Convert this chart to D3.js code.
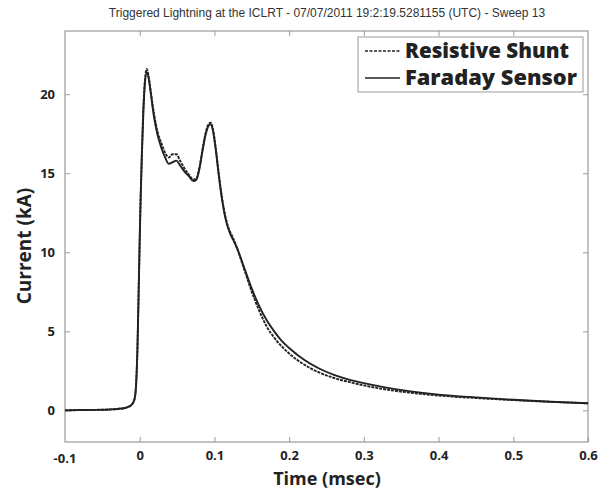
<!DOCTYPE html>
<html><head><meta charset="utf-8">
<script src="https://cdn.jsdelivr.net/npm/d3@7"></script>
<style>body{margin:0;background:#fff}svg{display:block}</style>
</head><body>
<svg id="c" width="616" height="491"></svg>
<script>
const title = "Triggered Lightning at the ICLRT - 07/07/2011 19:2:19.5281155 (UTC) - Sweep 13";
const xLabel = "Time (msec)";
const yLabel = "Current (kA)";
const seriesNames = ["Resistive Shunt", "Faraday Sensor"];
const xTicks = [-0.1, 0, 0.1, 0.2, 0.3, 0.4, 0.5, 0.6];
const yTicks = [0, 5, 10, 15, 20];
const time = [-0.1,-0.08,-0.06,-0.04,-0.03,-0.02,-0.014,-0.01,-0.007,-0.005,-0.003,-0.001,0.001,0.003,0.005,0.007,0.0095,0.012,0.015,0.019,0.024,0.029,0.034,0.039,0.044,0.049,0.054,0.06,0.066,0.072,0.076,0.08,0.084,0.088,0.092,0.095,0.098,0.102,0.106,0.11,0.115,0.12,0.125,0.13,0.14,0.15,0.16,0.17,0.18,0.19,0.2,0.22,0.24,0.26,0.28,0.3,0.33,0.36,0.4,0.45,0.5,0.55,0.6];
const shunt = [0,0.02,0.03,0.06,0.09,0.15,0.25,0.4,0.7,1.5,4,8.5,13,16.5,19.2,20.9,21.6,21.1,20.1,18.8,17.6,16.9,16.3,16.0,16.2,16.2,15.8,15.3,14.9,14.6,14.7,15.4,16.5,17.5,18.1,18.2,17.8,16.5,14.9,13.5,12.2,11.4,10.9,10.3,8.9,7.5,6.3,5.3,4.6,4.05,3.6,2.9,2.4,2.05,1.8,1.58,1.32,1.13,0.94,0.78,0.65,0.54,0.45];
const faraday = [0,0.02,0.03,0.06,0.09,0.15,0.25,0.4,0.7,1.5,4,8.5,13,16.3,19,20.7,21.4,21.0,20.0,18.6,17.4,16.6,16.0,15.6,15.7,15.8,15.5,15.1,14.8,14.5,14.6,15.3,16.4,17.4,18.0,18.1,17.7,16.4,14.8,13.4,12.1,11.3,10.8,10.3,9.0,7.7,6.6,5.7,5.0,4.4,3.95,3.2,2.65,2.25,1.95,1.72,1.44,1.22,1.0,0.82,0.67,0.55,0.45];

const svg = d3.select("#c");
const m = {l:65, r:588, t:31, b:442};
const x = d3.scaleLinear().domain([-0.1, 0.6]).range([m.l, m.r]);
const y = d3.scaleLinear().domain([-2, 24]).range([m.b, m.t]);
const frameCol = "#9a9a9a";
const tickFont = "'Open Sans', 'DejaVu Sans', sans-serif";

svg.append("text").attr("x", 327).attr("y", 17).attr("text-anchor","middle")
  .attr("font-family","'Liberation Sans', Arial, sans-serif").attr("font-size",12).attr("fill","#333")
  .text(title);

svg.append("rect").attr("x", m.l).attr("y", m.t).attr("width", m.r-m.l).attr("height", m.b-m.t)
  .attr("fill","none").attr("stroke",frameCol).attr("stroke-width",1.2);

const tl = 5;
const xb = svg.append("g").attr("transform",`translate(0,${m.b})`)
  .call(d3.axisBottom(x).tickValues(xTicks).tickSize(-tl).tickPadding(9).tickFormat(d=>d3.format("")(d)));
const xt = svg.append("g").attr("transform",`translate(0,${m.t})`)
  .call(d3.axisTop(x).tickValues(xTicks).tickSize(-tl).tickFormat(""));
const yl = svg.append("g").attr("transform",`translate(${m.l},0)`)
  .call(d3.axisLeft(y).tickValues(yTicks).tickSize(-tl).tickPadding(10));
const yr = svg.append("g").attr("transform",`translate(${m.r},0)`)
  .call(d3.axisRight(y).tickValues(yTicks).tickSize(-tl).tickFormat(""));
[xb,xt,yl,yr].forEach(g=>{
  g.select(".domain").remove();
  g.selectAll(".tick line").attr("stroke",frameCol).attr("stroke-width",1);
  g.selectAll("text").attr("font-family",tickFont).attr("font-weight",700).attr("font-size",13).attr("fill","#222");
});
xb.selectAll(".tick").filter(d=>d===-0.1).remove();
xt.selectAll(".tick").filter(d=>d===-0.1||d===0.6).remove();

svg.append("text").attr("x", 327).attr("y", 485).attr("text-anchor","middle")
  .attr("font-family",tickFont).attr("font-weight",700).attr("font-size",18).attr("fill","#222").text(xLabel);
svg.append("text").attr("transform","translate(31,246) rotate(-90)").attr("text-anchor","middle")
  .attr("font-family",tickFont).attr("font-weight",700).attr("font-size",19).attr("fill","#222").text(yLabel);
svg.append("text").attr("x", x(-0.1)).attr("y", m.b+9+3).attr("dy","0.71em").attr("text-anchor","middle")
  .attr("font-family",tickFont).attr("font-weight",700).attr("font-size",13).attr("fill","#222").text("-0.1");

const line = d3.line().x((d,i)=>x(time[i])).y(d=>y(d)).curve(d3.curveMonotoneX);
svg.append("path").datum(faraday).attr("d", line).attr("fill","none").attr("stroke","#222").attr("stroke-width",1.9);
svg.append("path").datum(shunt).attr("d", line).attr("fill","none").attr("stroke","#222").attr("stroke-width",1.9).attr("stroke-dasharray","3,1");

const lg = svg.append("g");
lg.append("rect").attr("x",358).attr("y",37).attr("width",225).attr("height",55).attr("fill","#fff").attr("stroke",frameCol).attr("stroke-width",1);
const dashes = ["3,1.5", null];
const widths = [164, 172];
seriesNames.forEach((n,i)=>{
  const cy = 51 + i*27;
  const l = lg.append("line").attr("x1",365).attr("x2",400).attr("y1",cy).attr("y2",cy).attr("stroke","#222").attr("stroke-width",1.3);
  if (dashes[i]) l.attr("stroke-dasharray",dashes[i]);
  lg.append("text").attr("x",405).attr("y",cy+7).attr("font-family",tickFont).attr("font-weight",800).attr("font-size",21)
    .attr("textLength",widths[i]).attr("lengthAdjust","spacingAndGlyphs").attr("fill","#222").text(n);
});
</script>
</body></html>
